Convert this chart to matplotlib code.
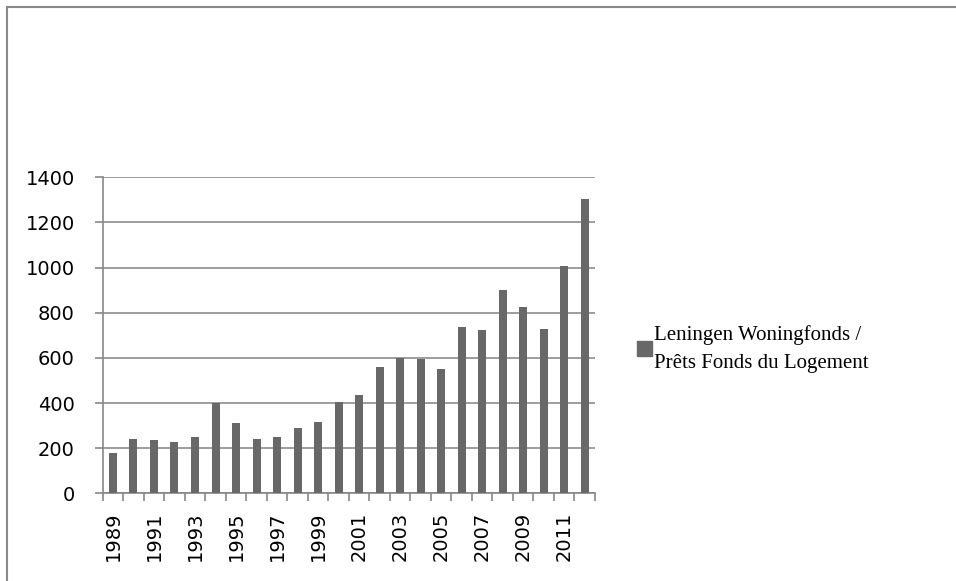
import matplotlib.pyplot as plt
from matplotlib.patches import Patch
from matplotlib.lines import Line2D
import numpy as np

years = list(range(1989, 2013))
loans = [177, 239, 238, 227, 248, 400, 313, 241, 248, 288, 316, 404,
         437, 560, 598, 594, 551, 737, 722, 901, 824, 729, 1006, 1304]
series_name = "Leningen Woningfonds /\nPrêts Fonds du Logement"

W, H = 956, 581
fig = plt.figure(figsize=(W / 100, H / 100), dpi=100)
fig.patch.set_facecolor("white")

# outer chart frame (only top and left visible, cropped at right/bottom)
fig.add_artist(Line2D([7 / W, 7 / W], [0, 1 - 7 / H], color="#888888", lw=1.5))
fig.add_artist(Line2D([7 / W, 1], [1 - 7 / H, 1 - 7 / H], color="#888888", lw=1.5))

ax = fig.add_axes([102.7 / W, 1 - 493.3 / H, (595 - 102.7) / W, (493.3 - 177.3) / H])

x = np.arange(len(years))
ax.bar(x, loans, width=0.39, color="#686868", zorder=3)

ax.set_xlim(-0.5, len(years) - 0.5)
ax.set_ylim(0, 1400)
ax.set_yticks(range(0, 1401, 200))
ax.grid(axis="y", color="#8c8c8c", lw=1.2, zorder=0)

for s in ["top", "right"]:
    ax.spines[s].set_visible(False)
for s in ["left", "bottom"]:
    ax.spines[s].set_color("#888888")
    ax.spines[s].set_linewidth(1.2)

ax.set_xticks(x[::2])
ax.set_xticklabels([str(y) for y in years[::2]], rotation=90, fontsize=14)
ax.set_xticks(np.arange(-0.5, len(years), 1), minor=True)
ax.tick_params(axis="x", which="major", length=0, pad=13)
ax.tick_params(axis="x", which="minor", length=6, color="#888888", width=1.2)
ax.tick_params(axis="y", length=6, color="#888888", width=1.2, pad=14, labelsize=14)

handle = Patch(color="#686868")
leg = fig.legend([handle], [series_name], loc="center left",
                 bbox_to_anchor=(637 / W, 1 - 349 / H), frameon=False,
                 prop={"family": "Liberation Serif", "size": 15},
                 handlelength=0.72, handleheight=0.72, handletextpad=0.1,
                 borderpad=0, borderaxespad=0)
for t in leg.get_texts():
    t.set_linespacing(1.6)

fig.savefig("out.png", dpi=100)
